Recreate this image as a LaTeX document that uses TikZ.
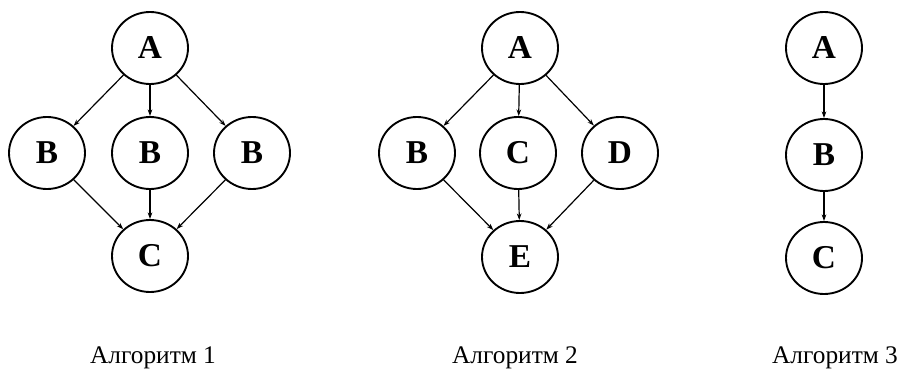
\documentclass[tikz,border=0pt]{standalone}
\usepackage{fontspec}
\setmainfont{Liberation Serif}
\usetikzlibrary{arrows.meta,shapes.geometric}
\begin{document}
\begin{tikzpicture}[x=0.75pt,y=-0.75pt,
  vertex/.style={draw,ellipse,line width=1.4pt,minimum width=57pt,minimum height=54pt,
    inner sep=0pt,font=\fontsize{25}{28}\selectfont\bfseries},
  edge/.style={line width=0.9pt,-{Stealth[length=5pt,width=3.5pt]}},
  caption/.style={anchor=base,font=\fontsize{19}{22}\selectfont}]
\useasboundingbox (0,0) rectangle (903,370);

% Algorithm 1
\node[vertex] (a1) at (150,48) {A};
\node[vertex] (b1l) at (47,153) {B};
\node[vertex] (b1m) at (150,153) {B};
\node[vertex] (b1r) at (252,153) {B};
\node[vertex] (c1) at (150,256) {C};
\draw[edge] (a1) -- (b1l);
\draw[edge] (a1) -- (b1m);
\draw[edge] (a1) -- (b1r);
\draw[edge] (b1l) -- (c1);
\draw[edge] (b1m) -- (c1);
\draw[edge] (b1r) -- (c1);
\node[caption] (cap1) at (153,363) {Алгоритм 1};

% Algorithm 2
\node[vertex] (a2) at (520,48) {A};
\node[vertex] (b2) at (417,153) {B};
\node[vertex] (c2) at (518,153) {C};
\node[vertex] (d2) at (620,153) {D};
\node[vertex] (e2) at (520,257) {E};
\draw[edge] (a2) -- (b2);
\draw[edge] (a2) -- (c2);
\draw[edge] (a2) -- (d2);
\draw[edge] (b2) -- (e2);
\draw[edge] (c2) -- (e2);
\draw[edge] (d2) -- (e2);
\node[caption] (cap2) at (515,363) {Алгоритм 2};

% Algorithm 3
\node[vertex] (a3) at (824,48) {A};
\node[vertex] (b3) at (824,155) {B};
\node[vertex] (c3) at (824,258) {C};
\draw[edge] (a3) -- (b3);
\draw[edge] (b3) -- (c3);
\node[caption] (cap3) at (835,363) {Алгоритм 3};
\end{tikzpicture}
\end{document}
